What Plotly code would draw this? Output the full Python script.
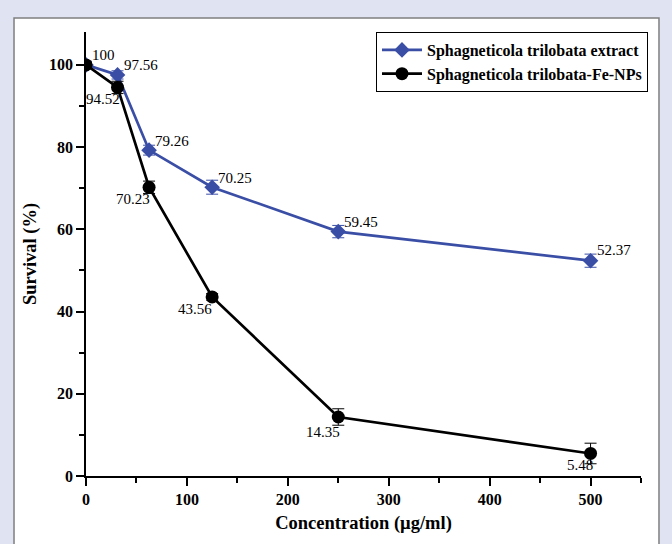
import plotly.graph_objects as go

conc = [0, 31.25, 62.5, 125, 250, 500]
extract_y = [100, 97.56, 79.26, 70.25, 59.45, 52.37]
extract_err = [0.8, 1.0, 1.2, 1.7, 1.5, 1.6]
nps_y = [100, 94.52, 70.23, 43.56, 14.35, 5.48]
nps_err = [0.6, 1.5, 1.5, 0.8, 2.0, 2.5]
extract_labels = ["100", "97.56", "79.26", "70.25", "59.45", "52.37"]
nps_labels = [None, "94.52", "70.23", "43.56", "14.35", "5.48"]

BLUE = "#3a4ea6"
FONT = "Liberation Serif"

fig = go.Figure()
fig.add_trace(go.Scatter(
    x=conc, y=extract_y, mode="lines+markers",
    name="Sphagneticola trilobata extract",
    line=dict(color=BLUE, width=2.7),
    marker=dict(symbol="diamond", size=12, color=BLUE),
    error_y=dict(type="data", array=extract_err, color=BLUE, thickness=1, width=6),
))
fig.add_trace(go.Scatter(
    x=conc, y=nps_y, mode="lines+markers",
    name="Sphagneticola trilobata-Fe-NPs",
    line=dict(color="black", width=2.7),
    marker=dict(symbol="circle", size=13, color="black"),
    error_y=dict(type="data", array=nps_err, color="black", thickness=1, width=6),
))

# data labels
ext_shift = [(4, 10), (4, 10), (4, 9), (4, 9), (4, 10), (4, 11)]
for xv, yv, lab, (dx, dy) in zip(conc, extract_y, extract_labels, ext_shift):
    fig.add_annotation(x=xv, y=yv, text=lab, showarrow=False, xanchor="left",
                       yanchor="middle", xshift=dx, yshift=dy,
                       font=dict(family=FONT, size=15, color="black"))
nps_shift = [(0, 0), (4, -12), (3, -12), (2, -12), (4, -15), (4, -12)]
for xv, yv, lab, (dx, dy) in zip(conc, nps_y, nps_labels, nps_shift):
    if lab is None:
        continue
    fig.add_annotation(x=xv, y=yv, text=lab, showarrow=False, xanchor="right",
                       yanchor="middle", xshift=dx, yshift=dy,
                       font=dict(family=FONT, size=15, color="black"))

# white panel
fig.add_shape(type="rect", xref="paper", yref="paper",
              x0=-0.1297, x1=1.0324, y0=-0.2, y1=1.0315,
              fillcolor="white", line=dict(color="#7f7f7f", width=1.5),
              layer="below")

fig.update_layout(
    width=672, height=544,
    paper_bgcolor="#e0e4f2", plot_bgcolor="rgba(0,0,0,0)",
    margin=dict(l=86, r=31, t=32, b=68),
    font=dict(family=FONT, color="black"),
    showlegend=True,
    legend=dict(x=1.0126, y=1.0, xanchor="right", yanchor="top",
                bgcolor="white", bordercolor="black", borderwidth=1,
                font=dict(family=FONT, size=16, color="black", weight="bold"),
                tracegroupgap=0, itemwidth=40),
)
fig.update_xaxes(
    range=[0, 550], showgrid=False, zeroline=False,
    showline=True, linecolor="black", linewidth=1.5,
    ticks="outside", ticklen=8, tickwidth=1.5, tickcolor="black",
    tick0=0, dtick=100,
    minor=dict(ticks="outside", ticklen=5, tickwidth=1.5, tickcolor="black", dtick=50),
    tickfont=dict(family=FONT, size=16, color="black", weight="bold"),
    title=dict(text="Concentration (µg/ml)", standoff=9,
               font=dict(family=FONT, size=18.5, color="black", weight="bold")),
)
fig.update_yaxes(
    range=[0, 108], showgrid=False, zeroline=False,
    showline=True, linecolor="black", linewidth=1.5,
    ticks="outside", ticklen=8, tickwidth=1.5, tickcolor="black",
    tick0=0, dtick=20,
    minor=dict(ticks="outside", ticklen=5, tickwidth=1.5, tickcolor="black", dtick=10),
    tickfont=dict(family=FONT, size=16, color="black", weight="bold"),
    title=dict(text="Survival (%)", standoff=8,
               font=dict(family=FONT, size=18.5, color="black", weight="bold")),
)

fig.write_html("out.html", config={"displayModeBar": False},
               post_script="document.body.style.margin='0px';")
